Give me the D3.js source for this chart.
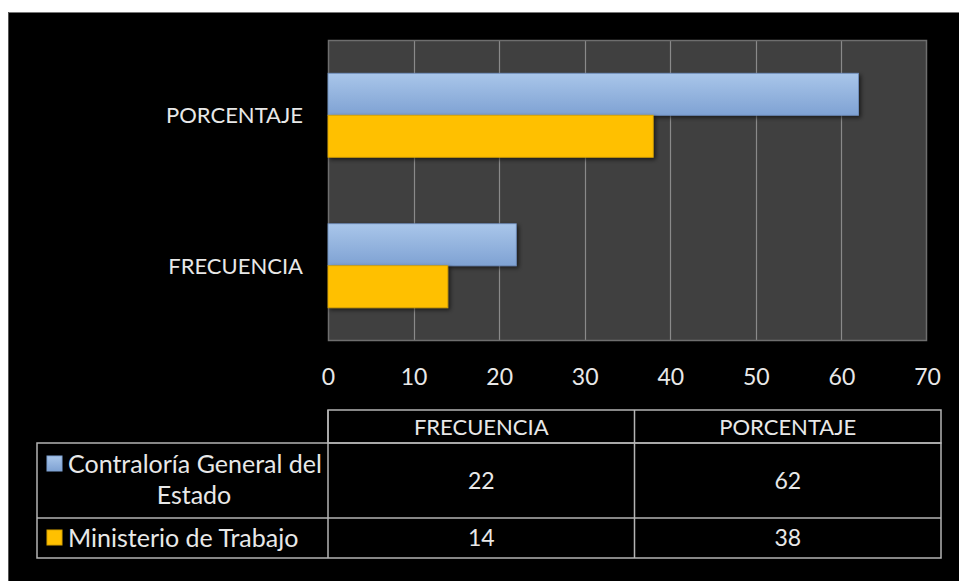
<!DOCTYPE html>
<html><head><meta charset="utf-8">
<script src="https://cdn.jsdelivr.net/npm/d3@7"></script>
<style>
html,body{margin:0;padding:0;background:#fff;}
svg{display:block;}
text{font-family:Lato,"Open Sans",sans-serif;fill:#e8e8e8;}
</style></head><body>
<svg id="c" width="959" height="581"></svg>
<script>
const categories = ["PORCENTAJE", "FRECUENCIA"];
const tableColumns = ["FRECUENCIA", "PORCENTAJE"];
const seriesNames = ["Contraloría General del Estado", "Ministerio de Trabajo"];
const contraloria = {FRECUENCIA: 22, PORCENTAJE: 62};
const ministerio = {FRECUENCIA: 14, PORCENTAJE: 38};
const xTicks = [0, 10, 20, 30, 40, 50, 60, 70];
const seriesColors = ["#95b3de", "#ffc000"];

const series = [
  {name: seriesNames[0], values: contraloria},
  {name: seriesNames[1], values: ministerio}
];

const svg = d3.select("#c");
const defs = svg.append("defs");
const grad = defs.append("linearGradient").attr("id","gBlue").attr("x1",0).attr("y1",0).attr("x2",0).attr("y2",1);
grad.append("stop").attr("offset","0%").attr("stop-color","#a9c6ea");
grad.append("stop").attr("offset","100%").attr("stop-color","#7fa2d3");
const shadow = defs.append("filter").attr("id","sh").attr("x","-5%").attr("y","-20%").attr("width","115%").attr("height","150%");
shadow.append("feDropShadow").attr("dx",2).attr("dy",2).attr("stdDeviation",2).attr("flood-color","#000").attr("flood-opacity",0.6);

// background
svg.append("rect").attr("x",8).attr("y",12).attr("width",951).attr("height",569).attr("fill","#000");
svg.append("line").attr("x1",8).attr("x2",959).attr("y1",12.5).attr("y2",12.5).attr("stroke","#777").attr("stroke-width",1);
svg.append("line").attr("x1",8.5).attr("x2",8.5).attr("y1",12).attr("y2",581).attr("stroke","#555").attr("stroke-width",1);

const plot = {left:328, right:927, top:40, bottom:341};
const x = d3.scaleLinear().domain([0,70]).range([plot.left, plot.right]);
const y = d3.scaleBand().domain(categories).range([plot.top, plot.bottom]).paddingInner(0.442).paddingOuter(0.221);
const ys = d3.scaleBand().domain(seriesNames).range([0, y.bandwidth()]);

svg.append("rect").attr("x",plot.left).attr("y",plot.top).attr("width",plot.right-plot.left).attr("height",plot.bottom-plot.top)
  .attr("fill","#404040");

// gridlines
svg.append("g").selectAll("line").data(xTicks.slice(1, -1)).join("line")
  .attr("x1",d=>Math.round(x(d))+0.5).attr("x2",d=>Math.round(x(d))+0.5)
  .attr("y1",plot.top).attr("y2",plot.bottom)
  .attr("stroke","#8a8a8a").attr("stroke-width",1.2);

svg.append("rect").attr("x",plot.left+0.5).attr("y",plot.top+0.5).attr("width",plot.right-plot.left-1).attr("height",plot.bottom-plot.top-1)
  .attr("fill","none").attr("stroke","#6e6e6e").attr("stroke-width",1.5);

// bars
const gBars = svg.append("g");
categories.forEach(cat => {
  series.forEach((s, i) => {
    gBars.append("rect")
      .attr("x", x(0))
      .attr("y", y(cat) + ys(s.name))
      .attr("width", x(s.values[cat]) - x(0))
      .attr("height", ys.bandwidth())
      .attr("fill", i === 0 ? "url(#gBlue)" : seriesColors[1])
      .attr("stroke", i === 0 ? "#6f8fbf" : "#d9a400")
      .attr("stroke-width", 0.8)
      .attr("filter","url(#sh)");
  });
});

// x axis
const xAxis = d3.axisBottom(x).tickValues(xTicks).tickSize(0).tickPadding(0);
const gx = svg.append("g").attr("transform",`translate(0,${plot.bottom+44})`).call(xAxis);
gx.select(".domain").remove();
gx.selectAll("text").attr("dy",0).attr("fill","#e8e8e8").style("font-size","23px").style("font-family","Lato,sans-serif");

// y axis
const yAxis = d3.axisLeft(y).tickSize(0).tickPadding(0);
const gy = svg.append("g").attr("transform",`translate(${plot.left-25},0)`).call(yAxis);
gy.select(".domain").remove();
gy.selectAll("text").attr("dy","0.36em").attr("fill","#e8e8e8").style("font-size","22px").style("font-family","Lato,sans-serif");

// data table
const tbl = {left:37, c1:328, c2:634, right:941, hTop:410, r1:443, r2:518, bottom:558};
const colX = d3.scaleBand().domain(tableColumns).range([tbl.c1, tbl.right]);
const lineColor = "#b4b4b4";
const gt = svg.append("g").attr("stroke",lineColor).attr("stroke-width",1.5).attr("fill","none");
gt.append("rect").attr("x",tbl.c1).attr("y",tbl.hTop).attr("width",tbl.right-tbl.c1).attr("height",tbl.r1-tbl.hTop);
gt.append("rect").attr("x",tbl.left).attr("y",tbl.r1).attr("width",tbl.right-tbl.left).attr("height",tbl.bottom-tbl.r1);
gt.append("line").attr("x1",tbl.left).attr("x2",tbl.right).attr("y1",tbl.r2).attr("y2",tbl.r2);
gt.append("line").attr("x1",tbl.c1).attr("x2",tbl.c1).attr("y1",tbl.hTop).attr("y2",tbl.bottom);
gt.append("line").attr("x1",colX("PORCENTAJE")).attr("x2",colX("PORCENTAJE")).attr("y1",tbl.hTop).attr("y2",tbl.bottom);

svg.append("g").selectAll("text").data(tableColumns).join("text")
  .attr("x",d=>colX(d)+colX.bandwidth()/2).attr("y",(tbl.hTop+tbl.r1)/2+1).attr("dy","0.36em")
  .attr("text-anchor","middle").style("font-size","22px").text(d=>d);

const rowsY = [(tbl.r1+tbl.r2)/2, (tbl.r2+tbl.bottom)/2];
series.forEach((s,i)=>{
  svg.append("g").selectAll("text").data(tableColumns).join("text")
    .attr("x",d=>colX(d)+colX.bandwidth()/2).attr("y",rowsY[i]).attr("dy","0.36em")
    .attr("text-anchor","middle").style("font-size","23px").text(d=>s.values[d]);
});

// legend keys + labels
svg.append("rect").attr("x",47).attr("y",456).attr("width",15).attr("height",15).attr("fill","url(#gBlue)").attr("stroke","#7fa2d3");
svg.append("text").attr("x",68).attr("y",464).attr("dy","0.36em").style("font-size","25px").text("Contraloría General del");
svg.append("text").attr("x",194).attr("y",495).attr("dy","0.36em").attr("text-anchor","middle").style("font-size","25px").text("Estado");
svg.append("rect").attr("x",47).attr("y",530).attr("width",15).attr("height",15).attr("fill",seriesColors[1]).attr("stroke","#d9a400");
svg.append("text").attr("x",68).attr("y",538).attr("dy","0.36em").style("font-size","25px").text("Ministerio de Trabajo");
</script></body></html>
